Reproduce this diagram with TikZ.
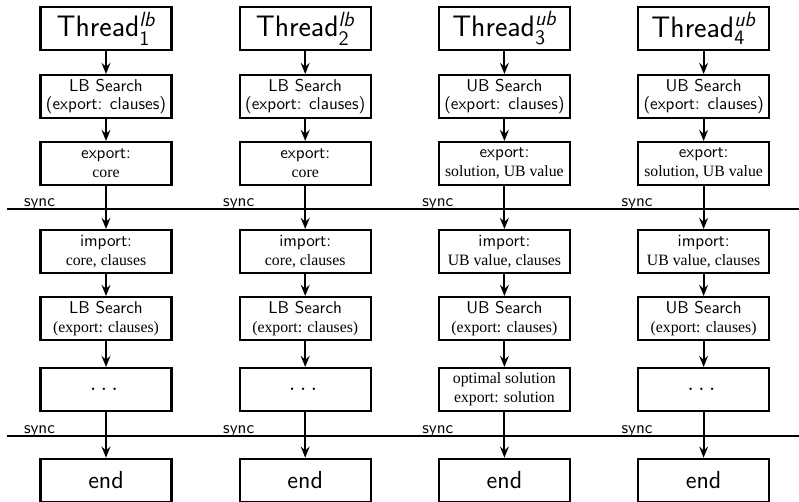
\documentclass[tikz,border=0pt]{standalone}
\usepackage{amsmath}
\usepackage{fontspec}
\newfontfamily\tms{Liberation Serif}
\usetikzlibrary{arrows.meta}
\newcommand*{\srf}[1]{{\tms\fontsize{9.2}{11}\selectfont #1}}
\newcommand*{\dotsbox}{{\Large$\dots$}}
\newcommand*{\optbox}{\srf{optimal solution}\\\srf{export: solution}}

\begin{document}
\begin{tikzpicture}[very thick, x=5.84pt, y=5.84pt, >={Stealth[length=6.5pt, width=5.2pt, inset=2.3pt]},
  box/.style={draw, minimum width=76.5pt, minimum height=25.1pt, inner sep=1pt, align=center, font=\sffamily\fontsize{10}{11}\selectfont}]
\useasboundingbox (0,0) rectangle (79.9,50.1);
\coordinate (sync1) at (0.65,29.2);
\coordinate (sync1r) at (81,29.2);
\coordinate (sync2) at (0.65,6.5);
\coordinate (sync2r) at (81,6.5);
\draw[semithick] (sync1) -- (sync1r);
\draw[semithick] (sync2) -- (sync2r);
\foreach \i/\tp/\kd/\ex/\im/\lst in {1/lb/LB/core/{core, clauses}/\dotsbox,
    2/lb/LB/core/{core, clauses}/\dotsbox,
    3/ub/UB/{solution, UB value}/{UB value, clauses}/\optbox,
    4/ub/UB/{solution, UB value}/{UB value, clauses}/\dotsbox} {
  \pgfmathsetmacro{\x}{10.6+19.92*(\i-1)}
  \node[box, font=\sffamily\LARGE] (t\i) at (\x,47.25) {Thread$^{\text{\itshape\tp}}_{\text{\i}}$};
  \node[box] (a\i) at (\x,40.45) {\kd{} Search\\(export: clauses)};
  \node[box] (b\i) at (\x,33.75) {export:\\\srf{\ex}};
  \node[box] (c\i) at (\x,24.95) {import:\\\srf{\im}};
  \node[box] (d\i) at (\x,18.25) {\kd{} Search\\\srf{(export: clauses)}};
  \node[box] (e\i) at (\x,11.15) {\lst};
  \node[box, font=\sffamily\Large] (f\i) at (\x,2.08) {end};
  \node[anchor=base west, inner sep=0pt, font=\sffamily] (ya\i) at (\x-8.3,29.45) {sync};
  \node[anchor=base west, inner sep=0pt, font=\sffamily] (yb\i) at (\x-8.3,6.75) {sync};
  \foreach \u/\v in {t/a,a/b,b/c,c/d,d/e,e/f}
    \draw[->] (\u\i) -- (\v\i);
}
\end{tikzpicture}
\end{document}
